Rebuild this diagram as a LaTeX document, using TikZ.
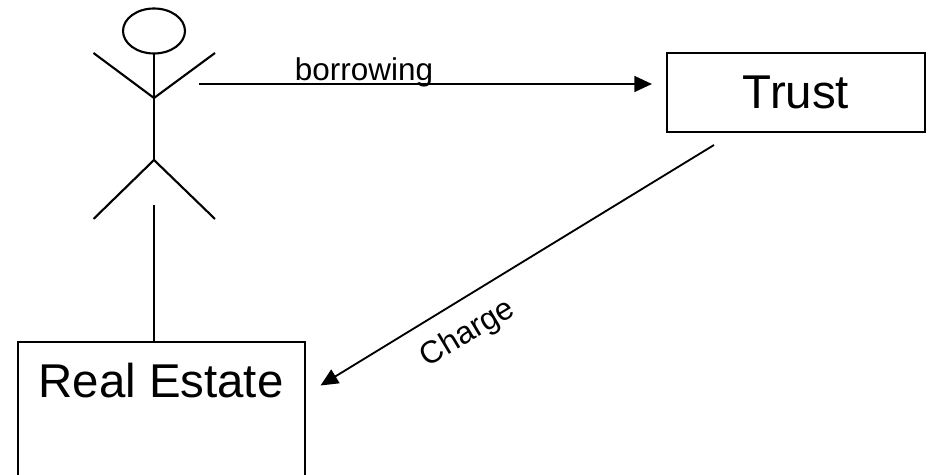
\documentclass[tikz,border=0pt]{standalone}
\usepackage{fontspec}
\setmainfont{Liberation Sans}
\usetikzlibrary{arrows.meta,calc}

\tikzset{
    boxnode/.style={draw, line width=1.2pt, rectangle, inner sep=0pt},
    bigtext/.style={font=\fontsize{27}{30}\selectfont},
    smalltext/.style={font=\fontsize{17.9}{21}\selectfont, inner sep=0pt},
    limb/.style={line width=1.2pt},
    flow/.style={line width=1.05pt, -{Triangle[length=10pt,width=9pt]}}
}

\begin{document}
\begin{tikzpicture}[x=0.02cm, y=-0.02cm]
    \useasboundingbox (0,0) rectangle (930,475);
    \clip (0,0) rectangle (930,475);

    % figure
    \coordinate (neck) at (154,53); \coordinate (hip) at (154,98); \coordinate (crotch) at (154,160);
    \draw[limb] (154,31) ellipse [x radius=31, y radius=22.5];
    \draw[limb] (neck) -- (hip) -- (crotch);
    \draw[limb] (93.5,53) -- (hip) -- (215,53);
    \draw[limb] (93.5,219) -- (crotch) -- (215,219);

    % boxes
    \node[boxnode, bigtext, minimum width=5.16cm, minimum height=1.58cm] (trust) at (796,92.5) {Trust};
    \node[boxnode, minimum width=5.74cm, minimum height=3.6cm, anchor=north] (estate) at (161.5,341) {};
    \node[bigtext, inner sep=0pt] (estatelabel) at (161,381) {Real Estate};

    % links
    \coordinate (post) at (154,205);
    \draw[limb] (post) -- (post |- estate.north);
    \coordinate (borrowstart) at (199,84); \coordinate (borrowend) at (652,84);
    \draw[flow] (borrowstart) -- (borrowend);
    \coordinate (chargestart) at (714,145); \coordinate (chargeend) at (320.5,385.5);
    \draw[flow] (chargestart) -- (chargeend);
    \node[smalltext] (borrowlabel) at (364,72) {borrowing};
    \node[smalltext, rotate=31] (chargelabel) at (468,334) {Charge};
\end{tikzpicture}
\end{document}
